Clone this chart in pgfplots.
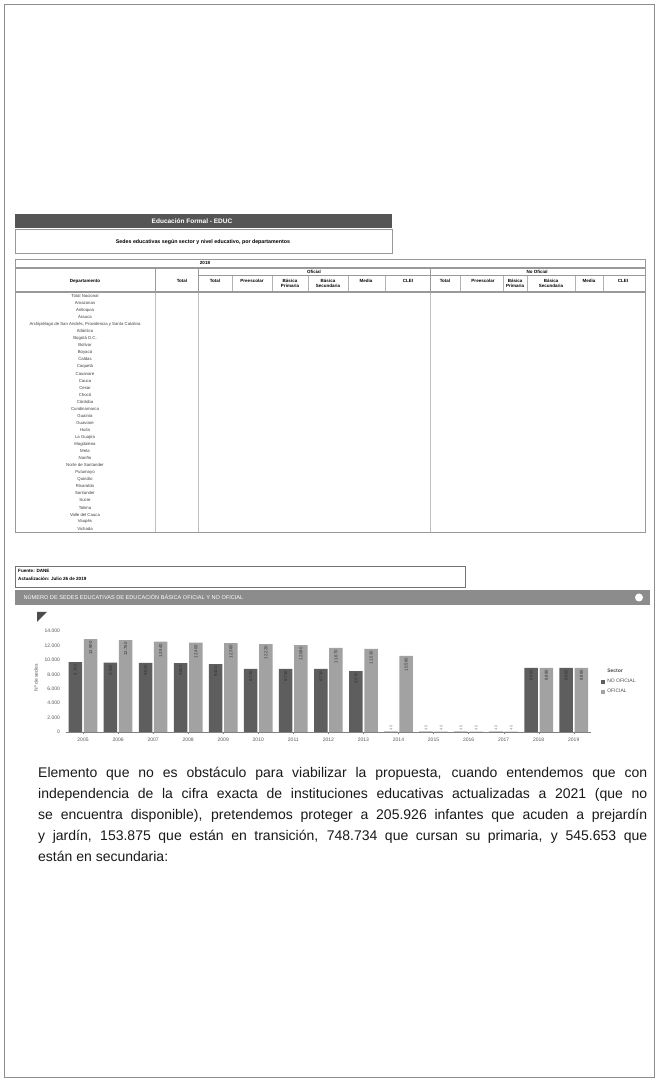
\documentclass[border=0pt]{standalone}
\usepackage{pgfplots}
\pgfplotsset{compat=1.18}
\usepackage{fontspec}
\setmainfont{Liberation Sans}
\definecolor{darkbar}{HTML}{5E5E5E}
\definecolor{lightbar}{HTML}{A2A2A2}
\definecolor{hdr}{HTML}{555555}
\definecolor{hdr2}{HTML}{8C8C8C}
\pgfplotstableread{
k  yr   noof  of    la    lb
0  2005 9700 12900 9.700 12.900
1  2006 9650 12750 9.650 12.750
2  2007 9600 12540 9.600 12.540
3  2008 9580 12400 9.580 12.400
4  2009 9440 12360 9.440 12.360
5  2010 8750 12220 8.750 12.220
6  2011 8750 12080 8.750 12.080
7  2012 8750 11670 8.750 11.670
8  2013 8470 11530 8.470 11.530
9  2014 40   10560 {}    10.560
10 2015 40   40    {}    {}
11 2016 40   40    {}    {}
12 2017 40   40    {}    {}
13 2018 8890 8890  8.890 8.890
14 2019 8890 8890  8.890 8.890
}\sedes
\pgfplotstableread{
k  noof of  la lb
9  40   0   40 {}
10 40   40  40 40
11 40   40  40 40
12 40   40  40 40
}\tiny
\begin{document}
\begin{tikzpicture}
\begin{scope}[x=1pt,y=1pt]
\path[fill=white] (0,0) rectangle (658,1081);
\draw[black!45, line width=0.8pt] (4,4) rectangle (654,1077);
% ---------- table ----------
\fill[hdr] (15,{1081-214}) rectangle (392,{1081-228});
\node[text=white, font=\bfseries\fontsize{6.5}{7}\selectfont] at (192,{1081-221}) {Educación Formal - EDUC};
\draw[black!40] (15,{1081-229}) rectangle (392,{1081-253});
\node[font=\bfseries\fontsize{5.3}{6}\selectfont] at (203,{1081-242}) {Sedes educativas según sector y nivel educativo, por departamentos};
\draw[black!40] (15,{1081-259}) rectangle (645,{1081-267});
\node[font=\bfseries\fontsize{4.5}{5}\selectfont] at (205,{1081-263}) {2018};
\draw[black!40] (15,{1081-268}) rectangle (645,{1081-291});
\draw[black!40] (198,{1081-275}) -- (645,{1081-275});
\foreach \xx in {155,198,430} {\draw[black!40] (\xx,{1081-268}) -- (\xx,{1081-291});}
\foreach \xx in {232,272,308,348,385,460,503,527,575,603} {\draw[black!30] (\xx,{1081-276}) -- (\xx,{1081-291});}
\foreach \xx in {155,198,430} {\draw[black!25] (\xx,{1081-292}) -- (\xx,{1081-532});}
\begin{scope}[every node/.style={font=\bfseries\fontsize{4.5}{4.8}\selectfont, align=center, inner sep=0pt}]
\node at (85,{1081-281}) {Departamento};
\node at (182,{1081-281}) {Total};
\node at (314,{1081-271.5}) {Oficial};
\node at (537,{1081-271.5}) {No Oficial};
\node at (215,{1081-281}) {Total};
\node at (252,{1081-281}) {Preescolar};
\node at (290,{1081-283}) {Básica\\Primaria};
\node at (328,{1081-283}) {Básica\\Secundaria};
\node at (366,{1081-281}) {Media};
\node at (408,{1081-281}) {CLEI};
\node at (445,{1081-281}) {Total};
\node at (483,{1081-281}) {Preescolar};
\node at (515,{1081-283}) {Básica\\Primaria};
\node at (551,{1081-283}) {Básica\\Secundaria};
\node at (589,{1081-281}) {Media};
\node at (623,{1081-281}) {CLEI};
\end{scope}
\foreach \nm [count=\i from 0] in {Total Nacional, Amazonas, Antioquia, Arauca, {Archipiélago de San Andrés, Providencia y Santa Catalina}, Atlántico, Bogotá D.C., Bolívar, Boyacá, Caldas, Caquetá, Casanare, Cauca, Cesar, Chocó, Córdoba, Cundinamarca, Guainía, Guaviare, Huila, La Guajira, Magdalena, Meta, Nariño, Norte de Santander, Putumayo, Quindío, Risaralda, Santander, Sucre, Tolima, Valle del Cauca, Vaupés, Vichada}
  {\node[font=\fontsize{4.3}{4.5}\selectfont, text=black!75, inner sep=0pt] at (85,{1081-(296+7.05*\i)}) {\nm};}
\draw[black!40] (15,{1081-292}) rectangle (645,{1081-532});
% footer
\draw[black!55] (15,{1081-566}) rectangle (465,{1081-587});
\node[anchor=west, font=\bfseries\fontsize{4.6}{5}\selectfont, inner sep=0pt] at (18,{1081-571}) {Fuente: DANE};
\node[anchor=west, font=\bfseries\fontsize{4.6}{5}\selectfont, inner sep=0pt] at (18,{1081-579}) {Actualización: Julio 26 de 2019};
% chart header
\fill[hdr2] (15,{1081-590}) rectangle (650,{1081-605});
\node[anchor=west, text=white, font=\fontsize{5.6}{6}\selectfont] at (20,{1081-597.5}) {NÚMERO DE SEDES EDUCATIVAS DE EDUCACIÓN BÁSICA OFICIAL Y NO OFICIAL};
\fill[white] (639,{1081-597.5}) circle (4);
\fill[black!70] (37,{1081-612}) -- (47,{1081-612}) -- (37,{1081-622}) -- cycle;
% ---------- paragraph ----------
\node[anchor=north west, inner sep=0pt, text width=609pt, align=justify, text=black!90,
  font=\fontsize{14}{21}\selectfont] at (38,{1081-767}) {%
Elemento que no es obstáculo para viabilizar la propuesta, cuando entendemos que con\linebreak
independencia de la cifra exacta de instituciones educativas actualizadas a 2021 (que no\linebreak
se encuentra disponible), pretendemos proteger a 205.926 infantes que acuden a prejardín\linebreak
y jardín, 153.875 que están en transición, 748.734 que cursan su primaria, y 545.653 que\linebreak
están en secundaria:};
\end{scope}
% ---------- chart ----------
\begin{axis}[
  at={(65.5pt,349pt)}, anchor=south west, scale only axis,
  width=525.75pt, height=108pt,
  xmin=-0.5, xmax=14.5, ymin=0, ymax=15000,
  ybar, bar width=13.5pt,
  axis x line*=bottom, axis y line*=left,
  y axis line style={draw=none},
  x axis line style={black!50},
  ytick={0,2000,4000,6000,8000,10000,12000,14000},
  scaled y ticks=false,
  yticklabel style={/pgf/number format/1000 sep={.}, /pgf/number format/assume math mode=true},
  ytick style={draw=none},
  xtick=data, xticklabels={2005,2006,2007,2008,2009,2010,2011,2012,2013,2014,2015,2016,2017,2018,2019},
  xtick style={draw=black!50}, tick align=outside, major tick length=2pt,
  tick label style={font=\fontsize{5}{6}\selectfont, text=black!65},
  ylabel={Nº de sedes}, ylabel style={font=\fontsize{5}{6}\selectfont, text=black!65},
  legend style={at={(1.012,0.62)}, anchor=north west, draw=none, fill=none,
    font=\fontsize{5}{6}\selectfont, text=black!70, legend cell align=left,
    row sep=1pt},
  legend image code/.code={\fill[#1] (0pt,-2.2pt) rectangle (4.5pt,2.2pt);},
  lbl/.style={nodes near coords, point meta=explicit symbolic,
    every node near coord/.append style={rotate=90, anchor=east, font=\fontsize{4.3}{5}\selectfont, text=black!80, inner sep=2pt}},
  lblup/.style={nodes near coords, point meta=explicit symbolic,
    every node near coord/.append style={rotate=90, anchor=west, font=\fontsize{4}{5}\selectfont, text=black!45, inner sep=1.5pt}},
]
\addlegendimage{empty legend}
\addlegendentry{\textbf{Sector}}
\addplot[fill=darkbar, draw=none, bar shift=-7.6pt, lbl]
  table[x=k, y=noof, meta=la] {\sedes};
\addlegendentry{NO OFICIAL}
\addplot[fill=lightbar, draw=none, bar shift=7.6pt, lbl]
  table[x=k, y=of, meta=lb] {\sedes};
\addlegendentry{OFICIAL}
\addplot[draw=none, fill=none, forget plot, bar shift=-7.6pt, lblup]
  table[x=k, y=noof, meta=la] {\tiny};
\addplot[draw=none, fill=none, forget plot, bar shift=7.6pt, lblup]
  table[x=k, y=of, meta=lb] {\tiny};
\end{axis}
\end{tikzpicture}
\end{document}
